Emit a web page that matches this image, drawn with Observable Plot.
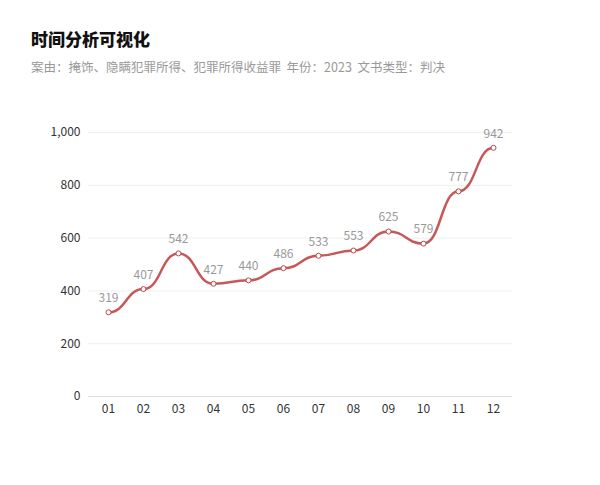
<!DOCTYPE html>
<html><head><meta charset="utf-8">
<script src="https://cdn.jsdelivr.net/npm/d3@7"></script>
<script src="https://cdn.jsdelivr.net/npm/@observablehq/plot@0.6"></script>
<style>
body{margin:0;background:#fff;font-family:"Noto Sans CJK SC","Noto Sans",sans-serif;}
#wrap{width:600px;height:485px;position:relative;}
h1{position:absolute;left:31px;top:26px;margin:0;font-size:17px;font-weight:900;color:#111;}
.sub{position:absolute;left:31px;top:57px;font-size:12.5px;color:#999;}
#chart{position:absolute;left:0;top:90px;}
</style></head><body>
<div id="wrap">
<h1>时间分析可视化</h1>
<div class="sub">案由：掩饰、隐瞒犯罪所得、犯罪所得收益罪&nbsp;&nbsp;年份：2023&nbsp;&nbsp;文书类型：判决</div>
<div id="chart"></div>
</div>
<script>
const months = ["01","02","03","04","05","06","07","08","09","10","11","12"];
const counts = [319,407,542,427,440,486,533,553,625,579,777,942];
const yTicks = [0,200,400,600,800,1000];
const data = months.map((m,i)=>({m, v: counts[i]}));
const chart = Plot.plot({
  width: 600, height: 340,
  marginLeft: 88, marginRight: 88, marginTop: 42, marginBottom: 34,
  style: {fontFamily: '"Noto Sans CJK SC","Noto Sans",sans-serif', fontSize: "12px", color: "#333"},
  x: {type: "point", domain: months, padding: 0.5, label: null, tickSize: 0, tickPadding: 8},
  y: {domain: [0,1000], ticks: yTicks, label: null, tickSize: 0, tickPadding: 8, tickFormat: d3.format(",")},
  marks: [
    Plot.gridY(yTicks, {stroke: "#eee", strokeOpacity: 1}),
    Plot.ruleY([0], {stroke: "#ddd"}),
    Plot.line(data, {x: "m", y: "v", stroke: "#c65858", strokeWidth: 2.5, curve: "bump-x"}),
    Plot.dot(data, {x: "m", y: "v", r: 2.5, fill: "#fff", stroke: "#b8484a", strokeWidth: 1}),
    Plot.text(data, {x: "m", y: "v", text: d => String(d.v), dy: -14, fill: "#999", fontSize: 12})
  ]
});
document.getElementById("chart").appendChild(chart);
</script>
</body></html>
